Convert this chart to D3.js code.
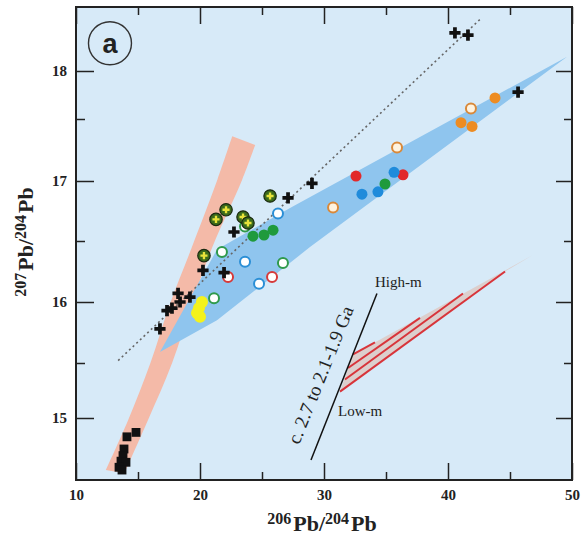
<!DOCTYPE html>
<html lang="en">
<head>
    <meta charset="UTF-8">
    <title>Pb isotopes (a)</title>
    <script src="https://d3js.org/d3.v7.min.js"></script>
    <style>
        body { margin: 0; background: #fff; }
        text { font-family: "Liberation Serif", "DejaVu Serif", serif; fill: #222; }
    </style>
</head>
<body>
    <div id="chart"></div>
    <script>
        // ---- data (206Pb/204Pb, 207Pb/204Pb) ----
        const crosses = [[40.56, 18.40], [41.61, 18.375], [45.65, 17.78], [29.03, 16.98], [27.10, 16.86],
            [22.74, 16.575], [20.24, 16.26], [21.94, 16.24], [18.23, 16.07], [19.19, 16.04], [18.39, 16.0],
            [17.74, 15.95], [17.34, 15.93], [16.77, 15.78]];
        const squares = [[14.11, 14.83], [14.84, 14.87], [13.87, 14.72], [13.79, 14.66], [13.63, 14.61],
            [14.03, 14.60], [13.47, 14.555], [13.71, 14.53]];
        const oliveCrossed = [[21.29, 16.68], [22.10, 16.76], [23.47, 16.70], [23.87, 16.65], [25.65, 16.875], [20.32, 16.38]];
        const greenFilled = [[24.27, 16.54], [25.16, 16.55], [25.89, 16.59], [34.92, 16.975]];
        const greenOpen = [[23.63, 16.62], [21.77, 16.41], [21.13, 16.03], [26.69, 16.32]];
        const blueOpen = [[26.29, 16.73], [23.63, 16.33], [24.76, 16.15]];
        const redOpen = [[22.26, 16.205], [25.81, 16.205]];
        const yellowFilled = [[20.16, 16.0], [19.92, 15.95], [19.76, 15.91], [20.0, 15.88]];
        const orangeOpen = [[30.73, 16.78], [35.89, 17.27], [41.85, 17.61]];
        const redFilled = [[32.58, 17.04], [36.37, 17.05]];
        const blueFilled = [[33.06, 16.89], [34.35, 16.91], [35.65, 17.07]];
        const orangeFilled = [[41.05, 17.47], [41.94, 17.44], [43.79, 17.72]];

        // fields
        const pinkLeft = [[22.6, 17.36], [21.4, 17.01], [19.35, 16.45], [17.6, 15.99], [16.0, 15.5], [14.2, 14.98], [12.4, 14.53]];
        const pinkRight = [[24.45, 17.29], [23.4, 17.01], [21.0, 16.45], [19.35, 15.99], [17.75, 15.5], [15.8, 14.98], [13.9, 14.5]];
        const blueField = [[16.77, 15.59], [21.37, 16.43], [27.26, 16.775], [49.6, 18.15], [28.87, 16.45], [21.37, 15.85]];
        const refLine = [[13.4, 15.52], [42.66, 18.55]];
        const isochron = [[28.95, 14.62], [34.27, 16.07]];
        const fanWedge = [[32.34, 15.57], [46.85, 16.385], [44.6, 16.25], [31.29, 15.24]];
        const fanLines = [
            [[32.34, 15.57], [34.11, 15.67]],
            [[31.94, 15.455], [37.74, 15.87]],
            [[31.69, 15.35], [41.21, 16.07]],
            [[31.29, 15.24], [44.6, 16.25]]
        ];

        // axis ticks
        const xMajor = [10, 20, 30, 40, 50];
        const xMinor = [15, 25, 35, 45];
        const yMajor = [15, 16, 17, 18];
        const yMinor = [15.5, 16.5, 17.5];

        // ---- layout ----
        const W = 584, H = 538;
        const plotL = 76, plotR = 572, plotT = 7, plotB = 480;

        const x = d3.scaleLinear().domain([10, 50]).range([plotL, plotR]);
        // the printed y axis is slightly uneven, so follow its tick marks piece by piece
        const y = d3.scaleLinear()
            .domain([14.44, 15, 15.5, 16, 16.5, 17, 17.5, 18, 18.67])
            .range([plotB, 418, 363, 302, 241, 181, 119, 71, plotT]);

        const svg = d3.select("#chart").append("svg")
            .attr("width", W)
            .attr("height", H);

        svg.append("rect")
            .attr("x", plotL).attr("y", plotT)
            .attr("width", plotR - plotL).attr("height", plotB - plotT)
            .attr("fill", "#d7eaf8");

        const line = d3.line().x(d => x(d[0])).y(d => y(d[1]));

        // pink band (curved)
        const bandPath = d3.line().x(d => x(d[0])).y(d => y(d[1])).curve(d3.curveCatmullRom);
        svg.append("path")
            .attr("d", bandPath(pinkLeft) + "L" + bandPath(pinkRight.slice().reverse()).slice(1) + "Z")
            .attr("fill", "#f4baa8");

        // blue field
        svg.append("path")
            .attr("d", line(blueField) + "Z")
            .attr("fill", "#8fc5ee");

        // dotted reference line
        svg.append("path")
            .attr("d", line(refLine))
            .attr("stroke", "#666")
            .attr("stroke-width", 1.6)
            .attr("stroke-dasharray", "2,3")
            .attr("fill", "none");

        // growth fan
        svg.append("path")
            .attr("d", line(fanWedge) + "Z")
            .attr("fill", "#dccfcd");
        svg.selectAll(".fan")
            .data(fanLines)
            .enter()
            .append("path")
            .attr("class", "fan")
            .attr("d", d => line(d))
            .attr("stroke", "#d8343a")
            .attr("stroke-width", 2)
            .attr("fill", "none");

        svg.append("path")
            .attr("d", line(isochron))
            .attr("stroke", "#111")
            .attr("stroke-width", 1.5)
            .attr("fill", "none");

        svg.append("text")
            .attr("x", x(34.11)).attr("y", y(16.12))
            .style("font-size", "15px")
            .text("High-m");
        svg.append("text")
            .attr("x", x(31.13)).attr("y", y(15.02))
            .style("font-size", "15px")
            .text("Low-m");
        svg.append("text")
            .attr("transform", "translate(" + x(30.2) + "," + y(15.37) + ") rotate(-68)")
            .attr("text-anchor", "middle")
            .style("font-size", "19px")
            .text("c. 2.7 to 2.1-1.9 Ga");

        // ---- markers ----
        function dots(data, r, fill, stroke, sw) {
            svg.append("g").selectAll("circle")
                .data(data)
                .enter()
                .append("circle")
                .attr("cx", d => x(d[0]))
                .attr("cy", d => y(d[1]))
                .attr("r", r)
                .attr("fill", fill)
                .attr("stroke", stroke)
                .attr("stroke-width", sw);
        }

        function symbols(data, type, size) {
            svg.append("g").selectAll("path")
                .data(data)
                .enter()
                .append("path")
                .attr("transform", d => "translate(" + x(d[0]) + "," + y(d[1]) + ")")
                .attr("d", d3.symbol().type(type).size(size))
                .attr("fill", "#111");
        }

        symbols(squares, d3.symbolSquare, 78);

        dots(greenFilled, 5.5, "#1f9a3c", "none", 0);
        dots(greenOpen, 5, "#fff", "#2f9a4c", 2);
        dots(blueOpen, 5, "#fff", "#2b8fd6", 2);
        dots(redOpen, 5, "#fff", "#d63a3a", 2);
        dots(yellowFilled, 6, "#f4f21c", "none", 0);
        dots(orangeOpen, 5, "#fff3df", "#d9893a", 2);
        dots(redFilled, 5.5, "#e2282a", "none", 0);
        dots(blueFilled, 5.5, "#1f8bdb", "none", 0);
        dots(orangeFilled, 5.5, "#ed8c22", "none", 0);

        // olive circles with a yellow cross
        const olive = svg.append("g").selectAll("g")
            .data(oliveCrossed)
            .enter()
            .append("g")
            .attr("transform", d => "translate(" + x(d[0]) + "," + y(d[1]) + ")");
        olive.append("circle")
            .attr("r", 6.2)
            .attr("fill", "#3c6b1c")
            .attr("stroke", "#1a2a10")
            .attr("stroke-width", 1.2);
        olive.append("path")
            .attr("d", d3.symbol().type(d3.symbolCross).size(28))
            .attr("fill", "#e8e33a");

        symbols(crosses, d3.symbolCross, 70);

        // ---- axes ----
        function axis(gen, tx, ty, values, size, labels) {
            const g = svg.append("g")
                .attr("transform", "translate(" + tx + "," + ty + ")")
                .call(gen.tickValues(values).tickSize(-size).tickPadding(labels ? 9 : 0)
                    .tickFormat(labels ? d3.format("d") : ""));
            g.select(".domain").remove();
            g.selectAll("line").attr("stroke", "#222").attr("stroke-width", 1.5);
            g.selectAll("text")
                .style("font-size", "15px")
                .style("font-weight", "bold")
                .attr("fill", "#333");
            return g;
        }

        axis(d3.axisBottom(x), 0, plotB, xMajor, 17, true);
        axis(d3.axisBottom(x), 0, plotB, xMinor, 8, false);
        axis(d3.axisTop(x), 0, plotT, xMajor, 17, false);
        axis(d3.axisTop(x), 0, plotT, xMinor, 8, false);
        axis(d3.axisLeft(y), plotL, 0, yMajor, 18, true);
        axis(d3.axisLeft(y), plotL, 0, yMinor, 9, false);
        axis(d3.axisRight(y), plotR, 0, yMajor, 16, false);
        axis(d3.axisRight(y), plotR, 0, yMinor, 8, false);

        svg.append("rect")
            .attr("x", plotL).attr("y", plotT)
            .attr("width", plotR - plotL).attr("height", plotB - plotT)
            .attr("fill", "none")
            .attr("stroke", "#222")
            .attr("stroke-width", 2);

        // panel label
        svg.append("circle")
            .attr("cx", x(12.74)).attr("cy", y(18.29))
            .attr("r", 21.5)
            .attr("fill", "none")
            .attr("stroke", "#333")
            .attr("stroke-width", 1.4);
        svg.append("text")
            .attr("x", x(12.74)).attr("y", y(18.29))
            .attr("text-anchor", "middle")
            .attr("dy", "0.35em")
            .style("font-family", "'Liberation Sans', Arial, sans-serif")
            .style("font-weight", "bold")
            .style("font-size", "27px")
            .text("a");

        // axis titles with superscript mass numbers
        function isoLabel(sel, a, b) {
            sel.style("font-weight", "bold").attr("text-anchor", "middle");
            sel.append("tspan").style("font-size", "16px").attr("dy", -7).text(a);
            sel.append("tspan").style("font-size", "22px").attr("dy", 7).attr("dx", 2).text("Pb/");
            sel.append("tspan").style("font-size", "16px").attr("dy", -7).text(b);
            sel.append("tspan").style("font-size", "22px").attr("dy", 7).attr("dx", 2).text("Pb");
        }

        svg.append("text")
            .attr("x", 322).attr("y", 531)
            .call(isoLabel, "206", "204");

        svg.append("text")
            .attr("transform", "translate(33,242) rotate(-90)")
            .call(isoLabel, "207", "204");
    </script>
</body>
</html>
